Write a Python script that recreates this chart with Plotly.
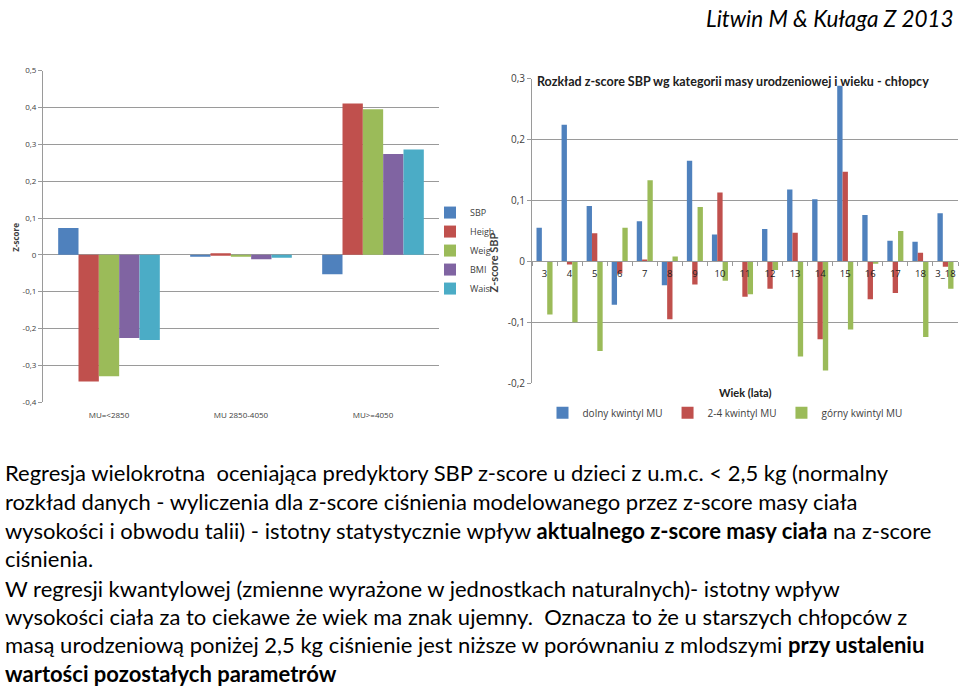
import plotly.graph_objects as go

W, H = 960, 693

# ---------------- Left chart data ----------------
left_categories = ["MU=<2850", "MU 2850-4050", "MU>=4050"]
left_series = ["SBP", "Heigh", "Weig", "BMI", "Wais"]
sbp = [0.073, -0.003, -0.053]
height = [-0.344, 0.004, 0.411]
weight = [-0.330, -0.003, 0.395]
bmi = [-0.226, -0.012, 0.274]
waist = [-0.231, -0.008, 0.286]
left_values = [sbp, height, weight, bmi, waist]
left_colors = ["#4F81BD", "#C0504D", "#9BBB59", "#8064A2", "#4BACC6"]
left_tickvals = [-0.4, -0.3, -0.2, -0.1, 0, 0.1, 0.2, 0.3, 0.4, 0.5]
left_ticktext = ["-0,4", "-0,3", "-0,2", "-0,1", "0", "0,1", "0,2", "0,3", "0,4", "0,5"]

# ---------------- Right chart data ----------------
ages = ["3", "4", "5", "6", "7", "8", "9", "10", "11", "12", "13", "14", "15", "16", "17", "18", "3_18"]
dolny = [0.055, 0.224, 0.091, -0.071, 0.066, -0.039, 0.165, 0.044, 0.0, 0.053, 0.118, 0.102, 0.288, 0.076, 0.034, 0.032, 0.079]
srodek = [0.0, -0.005, 0.046, -0.020, 0.003, -0.095, -0.038, 0.113, -0.058, -0.045, 0.047, -0.128, 0.147, -0.062, -0.052, 0.014, -0.009]
gorny = [-0.087, -0.100, -0.147, 0.055, 0.133, 0.008, 0.089, -0.032, -0.054, -0.014, -0.156, -0.179, -0.112, -0.004, 0.050, -0.124, -0.045]
right_series = ["dolny kwintyl MU", "2-4 kwintyl MU", "górny kwintyl MU"]
right_values = [dolny, srodek, gorny]
right_colors = ["#4F81BD", "#C0504D", "#9BBB59"]
right_tickvals = [-0.2, -0.1, 0, 0.1, 0.2, 0.3]
right_ticktext = ["-0,2", "-0,1", "0", "0,1", "0,2", "0,3"]

# ---------------- Text ----------------
header = "Litwin M &amp; Kułaga Z 2013"
body_lines = [
    "Regresja wielokrotna  oceniająca predyktory SBP z-score u dzieci z u.m.c. &lt; 2,5 kg (normalny",
    "rozkład danych - wyliczenia dla z-score ciśnienia modelowanego przez z-score masy ciała",
    "wysokości i obwodu talii) - istotny statystycznie wpływ <b>aktualnego z-score masy ciała</b> na z-score",
    "ciśnienia.",
    "W regresji kwantylowej (zmienne wyrażone w jednostkach naturalnych)- istotny wpływ",
    "wysokości ciała za to ciekawe że wiek ma znak ujemny.  Oznacza to że u starszych chłopców z",
    "masą urodzeniową poniżej 2,5 kg ciśnienie jest niższe w porównaniu z mlodszymi <b>przy ustaleniu</b>",
    "<b>wartości pozostałych parametrów</b>",
]

def px_x(p):
    return p / W

def px_y(p):
    return 1 - p / H

fig = go.Figure()

# left bars
n = len(left_series)
group = 0.77
bw = group / n
for i, (name, vals, col) in enumerate(zip(left_series, left_values, left_colors)):
    fig.add_trace(go.Bar(
        x=left_categories, y=vals, name=name, marker=dict(color=col, line=dict(width=0)),
        width=bw, offset=-group / 2 + i * bw, xaxis="x", yaxis="y", legend="legend",
    ))

# right bars
m = len(right_series)
group2 = 0.64
bw2 = group2 / m
for i, (name, vals, col) in enumerate(zip(right_series, right_values, right_colors)):
    fig.add_trace(go.Bar(
        x=ages, y=vals, name=name, marker=dict(color=col, line=dict(width=0)),
        width=bw2, offset=-group2 / 2 + i * bw2, xaxis="x2", yaxis="y2", legend="legend2",
    ))

grid = "#9a9a9a"
lab = "#404040"

ly0, ly1 = px_y(403.3), px_y(65)
ry0, ry1 = px_y(384), px_y(73)
r_range = [-0.2, 0.3]
zero_pos = ry0 + (0 - r_range[0]) / (r_range[1] - r_range[0]) * (ry1 - ry0)

fig.update_layout(
    width=W, height=H, margin=dict(l=0, r=0, t=0, b=0),
    paper_bgcolor="white", plot_bgcolor="white",
    barmode="overlay",
    font=dict(family="Lato, Open Sans, sans-serif", color="black"),
    showlegend=True,
    xaxis=dict(domain=[px_x(43), px_x(439)], anchor="y", type="category",
               showgrid=False, showline=False, ticks="",
               tickfont=dict(size=8, color=lab, family="Open Sans"), ticklabelstandoff=7),
    yaxis=dict(domain=[ly0, ly1], anchor="x", range=[-0.4, 0.5],
               tickvals=left_tickvals, ticktext=left_ticktext,
               showgrid=True, gridcolor=grid, gridwidth=1,
               zeroline=True, zerolinecolor=grid, zerolinewidth=1,
               showline=True, linecolor=grid, ticks="outside", ticklen=4, tickcolor=grid,
               tickfont=dict(size=8, color=lab, family="Open Sans")),
    xaxis2=dict(domain=[px_x(532), px_x(958)], anchor="free", position=zero_pos, type="category",
                showgrid=False, showline=True, linecolor=grid, linewidth=1,
                ticks="outside", tickson="boundaries", ticklen=4, tickcolor=grid,
                tickangle=0, ticklabelstandoff=3,
                tickfont=dict(size=9.5, color="#202020", family="Open Sans")),
    yaxis2=dict(domain=[ry0, ry1], anchor="x2", range=r_range,
                tickvals=right_tickvals, ticktext=right_ticktext,
                showgrid=True, gridcolor=grid, gridwidth=1,
                zeroline=False,
                showline=True, linecolor=grid, ticks="outside", ticklen=4, tickcolor=grid,
                tickfont=dict(size=10, color=lab, family="Open Sans")),
    legend=dict(x=px_x(430), y=px_y(195), xanchor="left", yanchor="top",
                font=dict(size=9, color=lab, family="Open Sans"),
                itemwidth=30, tracegroupgap=0, bgcolor="rgba(0,0,0,0)"),
    legend2=dict(orientation="h", x=px_x(725), y=px_y(414), xanchor="center", yanchor="middle",
                 font=dict(size=10, color=lab, family="Open Sans"),
                 bgcolor="rgba(0,0,0,0)"),
)

ann = []
ann.append(dict(text="<i>" + header + "</i>", x=px_x(956), y=px_y(12), xref="paper", yref="paper",
                xanchor="right", yanchor="middle", showarrow=False,
                font=dict(size=22.5, family="Lato", color="black")))
ann.append(dict(text="<b>Z-score</b>", x=px_x(8), y=px_y(235), xref="paper", yref="paper",
                textangle=-90, showarrow=False, font=dict(size=8, color=lab, family="Open Sans")))
ann.append(dict(text="<b>Z-score SBP</b>", x=px_x(493), y=px_y(228), xref="paper", yref="paper",
                textangle=-90, showarrow=False, font=dict(size=11, color=lab, family="Lato")))
ann.append(dict(text="<b>Rozkład z-score SBP wg kategorii masy urodzeniowej i wieku - chłopcy</b>",
                x=px_x(535), y=px_y(76), xref="paper", yref="paper", xanchor="left", yanchor="middle",
                showarrow=False, font=dict(size=12.5, color="#202020", family="Lato")))
ann.append(dict(text="<b>Wiek (lata)</b>", x=px_x(745), y=px_y(393), xref="paper", yref="paper",
                xanchor="center", yanchor="middle", showarrow=False,
                font=dict(size=11, color="#202020", family="Lato")))

line_y = [475, 505, 534, 563, 593, 622, 651, 680]
for t, yy in zip(body_lines, line_y):
    ann.append(dict(text=t, x=px_x(4), y=px_y(yy), xref="paper", yref="paper",
                    xanchor="left", yanchor="middle", showarrow=False, borderpad=0,
                    font=dict(size=22, family="Lato", color="black")))

fig.update_layout(annotations=ann)
fig.write_html("out.html")
